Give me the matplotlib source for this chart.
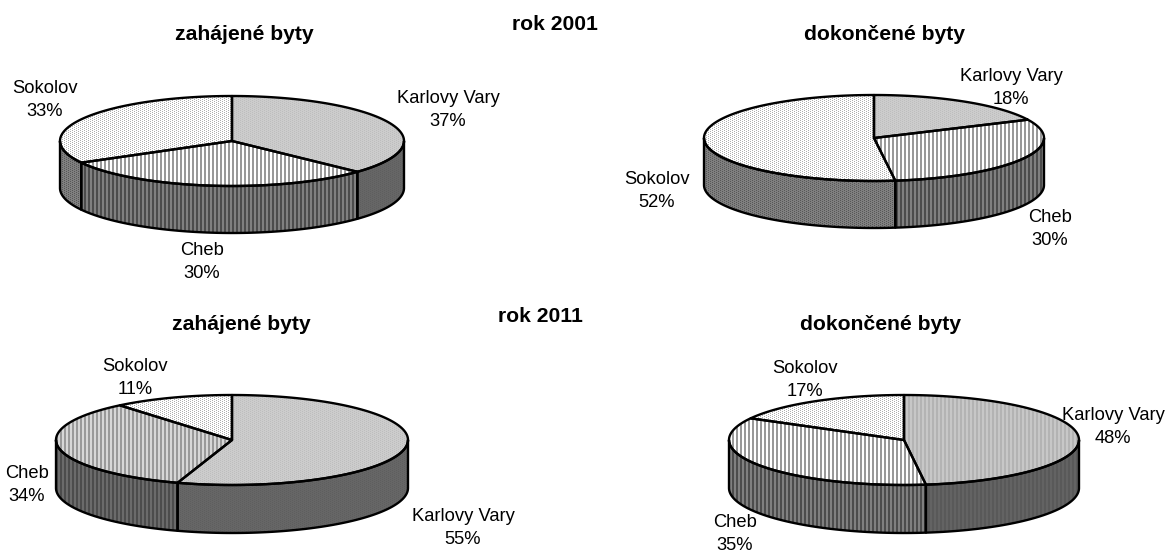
import numpy as np
import matplotlib
matplotlib.use("Agg")
import matplotlib.pyplot as plt
from matplotlib.patches import Polygon

plt.rcParams['font.family'] = ['Liberation Sans', 'DejaVu Sans']

W, H = 1168, 552

categories = ['Karlovy Vary', 'Cheb', 'Sokolov']
values_2001_started = [37, 30, 33]
values_2001_finished = [18, 30, 52]
values_2011_started = [55, 34, 11]
values_2011_finished = [48, 35, 17]

title_started = 'zahájené byty'
title_finished = 'dokončené byty'
year_labels = ['rok 2001', 'rok 2011']

# kind, foreground, background of the top face; the rim is the same at half brightness
dots_grey = ('dots', 0.74, 0.80)
dots_white = ('dots', 0.68, 1.0)
stripes_white = ('stripes', 0.60, 1.0)
stripes_grey = ('stripes', 0.60, 0.84)
stripes_soft = ('stripes', 0.70, 0.78)

# cx, cy, a, b, depth (pixels), fills, label positions
pies = [
    (232, 141, 172, 45, 47, values_2001_started, [dots_grey, stripes_white, dots_white],
     [(448, 110), (202, 262), (45, 100)]),
    (874, 138, 170, 43, 47, values_2001_finished, [dots_grey, stripes_white, dots_white],
     [(1011, 88), (1050, 229), (657, 191)]),
    (232, 440, 176, 45, 48, values_2011_started, [dots_grey, stripes_grey, dots_white],
     [(463, 528), (27, 485), (135, 378)]),
    (904, 440, 175, 45, 48, values_2011_finished, [stripes_soft, stripes_white, dots_white],
     [(1113, 427), (735, 534), (805, 380)]),
]


def texture(fill, shade=1.0):
    kind, fg, bg = fill
    yy, xx = np.mgrid[0:H, 0:W]
    if kind == 'stripes':
        mask = xx % 4 < 2
    else:
        mask = ((xx % 4 == 0) & (yy % 2 == 0)) | ((xx % 4 == 2) & (yy % 2 == 1))
    return np.where(mask, fg, bg) * shade


def rim(cx, cy, a, b, t):
    return np.column_stack([cx + a * np.sin(t), cy - b * np.cos(t)])


def shape(ax, pts, fill, shade=1.0):
    patch = Polygon(pts, closed=True, fc='none', ec='black', lw=1.7, joinstyle='round', zorder=3)
    ax.add_patch(patch)
    im = ax.imshow(texture(fill, shade), cmap='gray', vmin=0, vmax=1, extent=(0, W, H, 0),
                   interpolation='nearest', aspect='auto', zorder=2)
    im.set_clip_path(patch)


fig = plt.figure(figsize=(W / 100, H / 100), dpi=100)
ax = fig.add_axes([0, 0, 1, 1])

for cx, cy, a, b, depth, vals, fills, label_pos in pies:
    edges = np.deg2rad(np.cumsum([0] + vals) * 3.6)
    # rim first, only the front half of the ellipse can be seen
    for i, fill in enumerate(fills):
        t0, t1 = max(edges[i], np.pi / 2), min(edges[i + 1], 3 * np.pi / 2)
        if t1 <= t0:
            continue
        t = np.linspace(t0, t1, 120)
        arc = rim(cx, cy, a, b, t)
        low = arc + [0, depth]
        shape(ax, np.vstack([arc, low[::-1]]), fill, 0.5)
    for i, fill in enumerate(fills):
        t = np.linspace(edges[i], edges[i + 1], 200)
        shape(ax, np.vstack([[cx, cy], rim(cx, cy, a, b, t)]), fill)
    for name, v, (lx, ly) in zip(categories, vals, label_pos):
        ax.text(lx, ly, f'{name}\n{v}%', ha='center', va='center', fontsize=13.2, linespacing=1.5)

ax.set_xlim(0, W)
ax.set_ylim(H, 0)
ax.axis('off')

ax.text(244, 34, title_started, ha='center', va='center', fontsize=15.2, fontweight='bold')
ax.text(885, 34, title_finished, ha='center', va='center', fontsize=15.2, fontweight='bold')
ax.text(241, 324, title_started, ha='center', va='center', fontsize=15.2, fontweight='bold')
ax.text(881, 324, title_finished, ha='center', va='center', fontsize=15.2, fontweight='bold')
ax.text(555, 24, year_labels[0], ha='center', va='center', fontsize=15.2, fontweight='bold')
ax.text(540, 316, year_labels[1], ha='center', va='center', fontsize=15.2, fontweight='bold')

fig.savefig('out.png', dpi=100, facecolor='white')
